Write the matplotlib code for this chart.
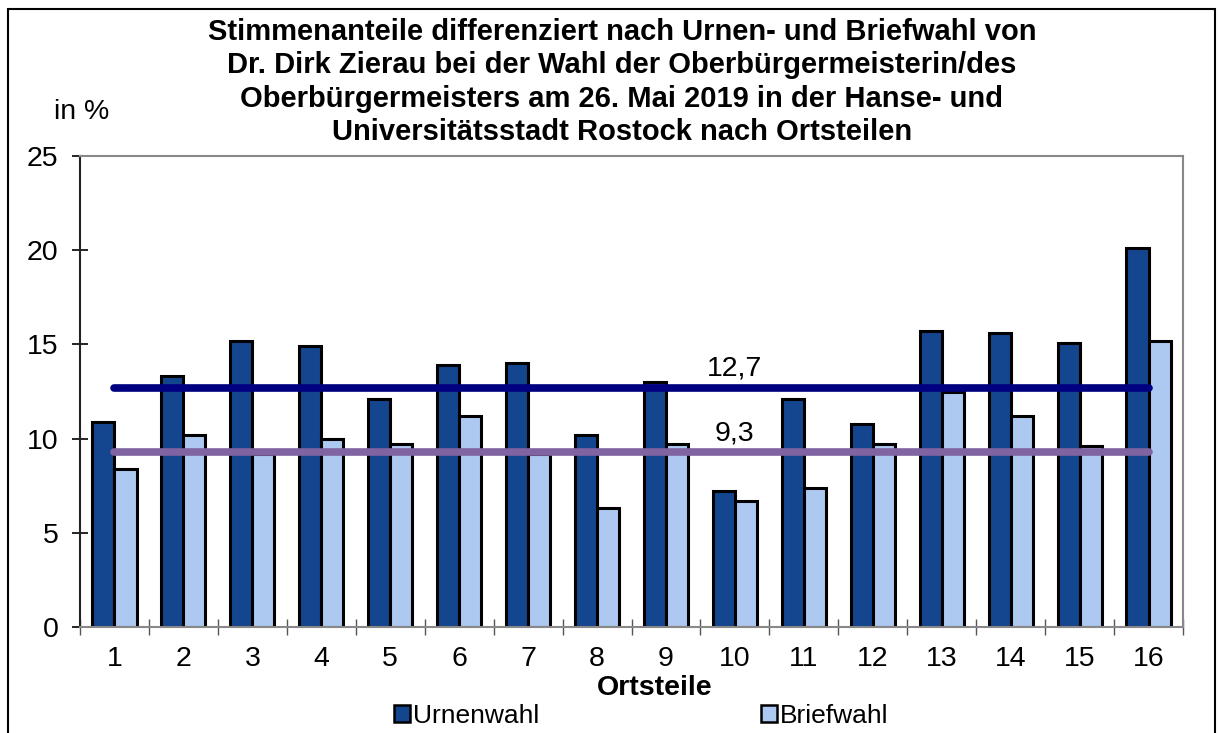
import numpy as np
import matplotlib.pyplot as plt
from matplotlib.patches import Rectangle

plt.rcParams['font.family'] = ['Liberation Sans', 'DejaVu Sans']

# Stimmenanteile in % nach Ortsteilen
ortsteile = [str(i) for i in range(1, 17)]
urnenwahl = [10.9, 13.3, 15.2, 14.9, 12.1, 13.9, 14.0, 10.2, 13.0, 7.2, 12.1, 10.8, 15.7, 15.6, 15.1, 20.1]
briefwahl = [8.4, 10.2, 9.2, 10.0, 9.7, 11.2, 9.2, 6.3, 9.7, 6.7, 7.4, 9.7, 12.5, 11.2, 9.6, 15.2]
mittel_urne = 12.7
mittel_brief = 9.3
mittel_labels = ["12,7", "9,3"]

title_lines = [
    "Stimmenanteile differenziert nach Urnen- und Briefwahl von",
    "Dr. Dirk Zierau bei der Wahl der Oberbürgermeisterin/des",
    "Oberbürgermeisters am 26. Mai 2019 in der Hanse- und",
    "Universitätsstadt Rostock nach Ortsteilen",
]

W, H = 1218, 733
FS = 20.5
fig = plt.figure(figsize=(W / 100, H / 100), dpi=100)
ax = fig.add_axes([80 / W, 1 - 627 / H, (1183 - 80) / W, (627 - 156) / H])

x = np.arange(1, len(ortsteile) + 1)
bw = 0.32
ax.bar(x - bw / 2, urnenwahl, bw, color='#14458F', edgecolor='black', linewidth=2.2, zorder=2)
ax.bar(x + bw / 2, briefwahl, bw, color='#ADC9F2', edgecolor='black', linewidth=2.2, zorder=2)

# Durchschnittslinien
ax.plot([x[0], x[-1]], [mittel_urne, mittel_urne], color='#000080', lw=5.5,
        solid_capstyle='round', zorder=3)
ax.plot([x[0], x[-1]], [mittel_brief, mittel_brief], color='#8064A2', lw=5.5,
        solid_capstyle='round', zorder=3)
ax.text(10, mittel_urne + 0.35, mittel_labels[0], ha='center', va='bottom', fontsize=FS, zorder=4)
ax.text(10, mittel_brief + 0.3, mittel_labels[1], ha='center', va='bottom', fontsize=FS, zorder=4)

ax.set_xlim(0.5, len(ortsteile) + 0.5)
ax.set_ylim(0, 25)
ax.set_yticks(range(0, 26, 5))
ax.set_xticks(x)
ax.set_xticklabels(ortsteile)
ax.set_xticks(np.arange(0.5, len(ortsteile) + 1, 1), minor=True)
ax.tick_params(axis='x', which='major', length=0, pad=13.5, labelsize=FS)
ax.tick_params(axis='x', which='minor', direction='inout', length=11, color='#555555', width=1)
ax.tick_params(axis='y', direction='inout', length=11, width=1.2, pad=10, labelsize=FS)

for side in ['top', 'right']:
    ax.spines[side].set_color('#888888')
    ax.spines[side].set_linewidth(1.5)
ax.spines['left'].set_color('#222222')
ax.spines['left'].set_linewidth(1.5)
ax.spines['bottom'].set_color('#888888')
ax.spines['bottom'].set_linewidth(1.5)

# Titel
for i, line in enumerate(title_lines):
    fig.text(622 / W, 1 - (32 + i * 33.3) / H, line, ha='center', va='center',
             fontsize=21, fontweight='bold')

fig.text(82 / W, 1 - 112 / H, "in %", ha='center', va='center', fontsize=FS)
fig.text(655 / W, 1 - 688 / H, "Ortsteile", ha='center', va='center', fontsize=FS, fontweight='bold')

handles = [Rectangle((0, 0), 1, 1, facecolor='#14458F', edgecolor='black', lw=1.8),
           Rectangle((0, 0), 1, 1, facecolor='#ADC9F2', edgecolor='black', lw=1.8)]
fig.legend(handles, ["Urnenwahl", "Briefwahl"], loc='center', bbox_to_anchor=(641 / W, 1 - 716 / H),
           ncol=2, frameon=False, fontsize=19, handlelength=0.6, handleheight=0.6,
           handletextpad=0.12, columnspacing=8.4, borderpad=0)

fig.patches.append(Rectangle((8 / W, -0.02), (1215 - 8) / W, 1 - 9 / H + 0.02,
                             transform=fig.transFigure, fill=False, edgecolor='black', lw=1.5))

fig.savefig('out.png', dpi=100)
